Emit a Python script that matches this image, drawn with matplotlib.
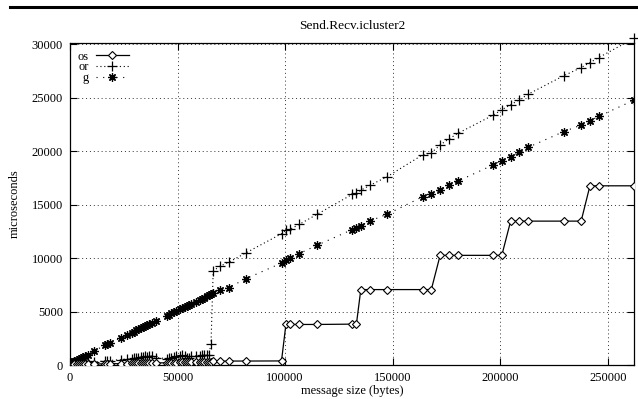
import matplotlib
matplotlib.use("Agg")
import matplotlib.pyplot as plt
from matplotlib.lines import Line2D

plt.rcParams["font.family"] = ["Liberation Serif", "DejaVu Serif"]
plt.rcParams["font.size"] = 9

# message sizes (bytes)
sizes = [1, 64, 128, 256, 512, 1024, 1536, 2048, 3072, 4096, 5120, 6144, 7168, 8192,
         11264, 16384, 17408, 18432, 23552, 26624, 28672, 29696, 30720, 31744, 32768,
         33792, 34816, 35840, 36864, 37888, 39936, 45056, 46080, 47104, 48128, 49152,
         51200, 52224, 53248, 54272, 55296, 56320, 58368, 60416, 61440, 62464, 63488,
         64512, 65536,
         66560, 69632, 73728, 81920, 98304, 100352, 102400, 106496, 114688, 131072,
         133120, 135168, 139264, 147456, 163840, 167936, 172032, 176128, 180224, 196608,
         200704, 204800, 208896, 212992, 229376, 237568, 241664, 245760, 262144]

# microseconds
os_vals = [20, 25, 30, 35, 40, 45, 50, 55, 60, 65, 70, 75, 80, 85,
           90, 110, 110, 115, 130, 140, 150, 150, 155, 160, 165,
           170, 170, 175, 180, 185, 190, 210, 215, 220, 225, 230,
           240, 245, 250, 255, 260, 265, 275, 285, 290, 295, 300,
           305, 310,
           340, 350, 370, 370, 380, 3790, 3790, 3790, 3790, 3820,
           3820, 7050, 7050, 7050, 7050, 7050, 10250, 10250, 10250, 10250,
           10250, 13450, 13450, 13450, 13450, 13450, 16750, 16750, 16750]

or_vals = [80, 90, 100, 120, 150, 190, 220, 250, 290, 330, 360, 380, 400, 420,
           300, 380, 400, 420, 500, 560, 600, 620, 650, 700, 720,
           760, 800, 780, 820, 850, 700, 600, 650, 700, 780, 820,
           860, 900, 880, 700, 650, 800, 850, 880, 900, 920, 940,
           960, 1960,
           8790, 9230, 9600, 10500, 12270, 12580, 12700, 13140, 14070, 15940,
           16060, 16340, 16780, 17610, 19640, 19830, 20570, 21130, 21650, 23350,
           23860, 24330, 24790, 25320, 27030, 27800, 28270, 28740, 30540]

g_vals = [30, 45, 60, 85, 120, 190, 260, 330, 440, 540, 650, 760, 860, 960,
          1340, 1830, 1940, 2040, 2530, 2830, 3020, 3130, 3230, 3330, 3420,
          3520, 3630, 3720, 3830, 3920, 4120, 4620, 4720, 4820, 4920, 5010,
          5210, 5320, 5410, 5510, 5610, 5710, 5910, 6110, 6200, 6300, 6410,
          6500, 6600,
          6740, 7050, 7240, 8080, 9530, 9850, 10040, 10410, 11180, 12650,
          12800, 13020, 13450, 14100, 15720, 16000, 16390, 16780, 17180, 18700,
          19110, 19480, 19880, 20350, 21810, 22430, 22830, 23240, 24760]

x_ticks = [0, 50000, 100000, 150000, 200000, 250000]
y_ticks = [0, 5000, 10000, 15000, 20000, 25000, 30000]

fig = plt.figure(figsize=(6.38, 3.99), dpi=100)
ax = fig.add_axes([70 / 638, 1 - 365 / 399, 564 / 638, 322 / 399])

ax.plot(sizes, os_vals, color="black", lw=0.9, marker="D", ms=3.6,
        mfc="white", mec="black", mew=0.8, label="os", zorder=3)
ax.plot(sizes, or_vals, color="black", lw=0.8, ls=(0, (1, 2.5)), marker="+",
        ms=6.5, mew=0.9, label="or", zorder=2)
ax.plot(sizes, g_vals, color="black", lw=0.8, ls=(0, (1, 5)), marker=(8, 2, 0),
        ms=6, mew=0.9, label="g", zorder=2)
# the last "or" point sits just above the frame and is still drawn there
ax.plot(sizes[-1:], or_vals[-1:], ls="none", color="black", marker="+",
        ms=6.5, mew=0.9, clip_on=False, zorder=2)

ax.set_xlim(0, 262144)
ax.set_ylim(0, 30100)
ax.set_xticks(x_ticks)
ax.set_yticks(y_ticks)
ax.tick_params(direction="in", length=5, width=0.8, top=True, right=True,
               labelsize=9, pad=5)
ax.grid(True, color="#333333", lw=0.7, ls=(0, (1, 3)))
for s in ax.spines.values():
    s.set_linewidth(0.9)

ax.set_title("Send.Recv.icluster2", fontsize=9.6, pad=10)
ax.set_xlabel("message size (bytes)", fontsize=9, labelpad=1)
ax.set_ylabel("microseconds", fontsize=9, labelpad=8)

leg = ax.legend(loc="upper left", markerfirst=False, fontsize=9, labelspacing=-0.1,
                handlelength=2.6, handletextpad=0.6, borderpad=0.3,
                borderaxespad=0.3, fancybox=False, framealpha=1)
leg.get_frame().set_edgecolor("white")
leg.set_zorder(5)
for t in leg.get_texts():
    t.set_ha("right")

# thick rule at the top of the page
fig.add_artist(Line2D([10 / 638, 1], [1 - 6.5 / 399, 1 - 6.5 / 399],
                      color="black", lw=2.2))

fig.savefig("out.png", dpi=100)
